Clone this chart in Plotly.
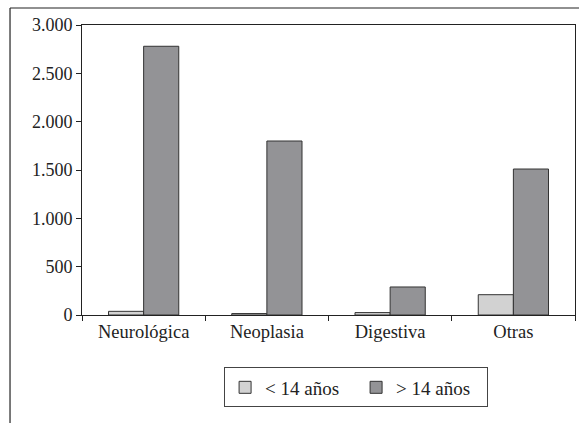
import plotly.graph_objects as go

categories = ["Neurológica", "Neoplasia", "Digestiva", "Otras"]
menores = [38, 15, 25, 210]
mayores = [2780, 1800, 290, 1510]
series_names = ["< 14 años", "> 14 años"]

FONT = "Liberation Serif"

fig = go.Figure()
fig.add_trace(go.Bar(x=categories, y=menores, name=series_names[0],
                     marker=dict(color="#d2d2d2", line=dict(color="#333333", width=1))))
fig.add_trace(go.Bar(x=categories, y=mayores, name=series_names[1],
                     marker=dict(color="#939396", line=dict(color="#333333", width=1))))

fig.update_layout(
    width=579, height=423,
    margin=dict(l=82, r=4, t=25, b=108),
    paper_bgcolor="white", plot_bgcolor="white",
    font=dict(family=FONT, size=18, color="#222222"),
    barmode="group", bargap=0.43, bargroupgap=0,
    separators=",.",
    showlegend=True,
    legend=dict(orientation="h", xref="container", yref="container",
                x=0.615, y=0.084, xanchor="center", yanchor="middle",
                bordercolor="#444444", borderwidth=1, bgcolor="white",
                font=dict(family=FONT, size=19), entrywidth=86, traceorder="normal"),
    xaxis=dict(showline=True, linecolor="#222222", linewidth=1, mirror=True,
               ticks="outside", ticklen=5, tickcolor="#222222", tickson="boundaries",
               showgrid=False, automargin=False, tickfont=dict(size=18.5)),
    yaxis=dict(range=[0, 3000], dtick=500, tickformat=",d", showline=True,
               linecolor="#222222", linewidth=1, mirror=True, ticks="outside",
               ticklen=5, tickcolor="#222222", showgrid=False, zeroline=False,
               automargin=False),
    shapes=[
        dict(type="line", xref="paper", yref="paper", x0=-0.146, y0=1.0586, x1=1.05, y1=1.0586,
             line=dict(color="#222222", width=1.2)),
        dict(type="line", xref="paper", yref="paper", x0=-0.146, y0=1.0586, x1=-0.146, y1=-0.5,
             line=dict(color="#222222", width=1.2)),
    ],
)

fig.write_html("out.html", config={"displayModeBar": False},
               post_script="document.body.style.margin='0';document.body.style.overflow='hidden';")
